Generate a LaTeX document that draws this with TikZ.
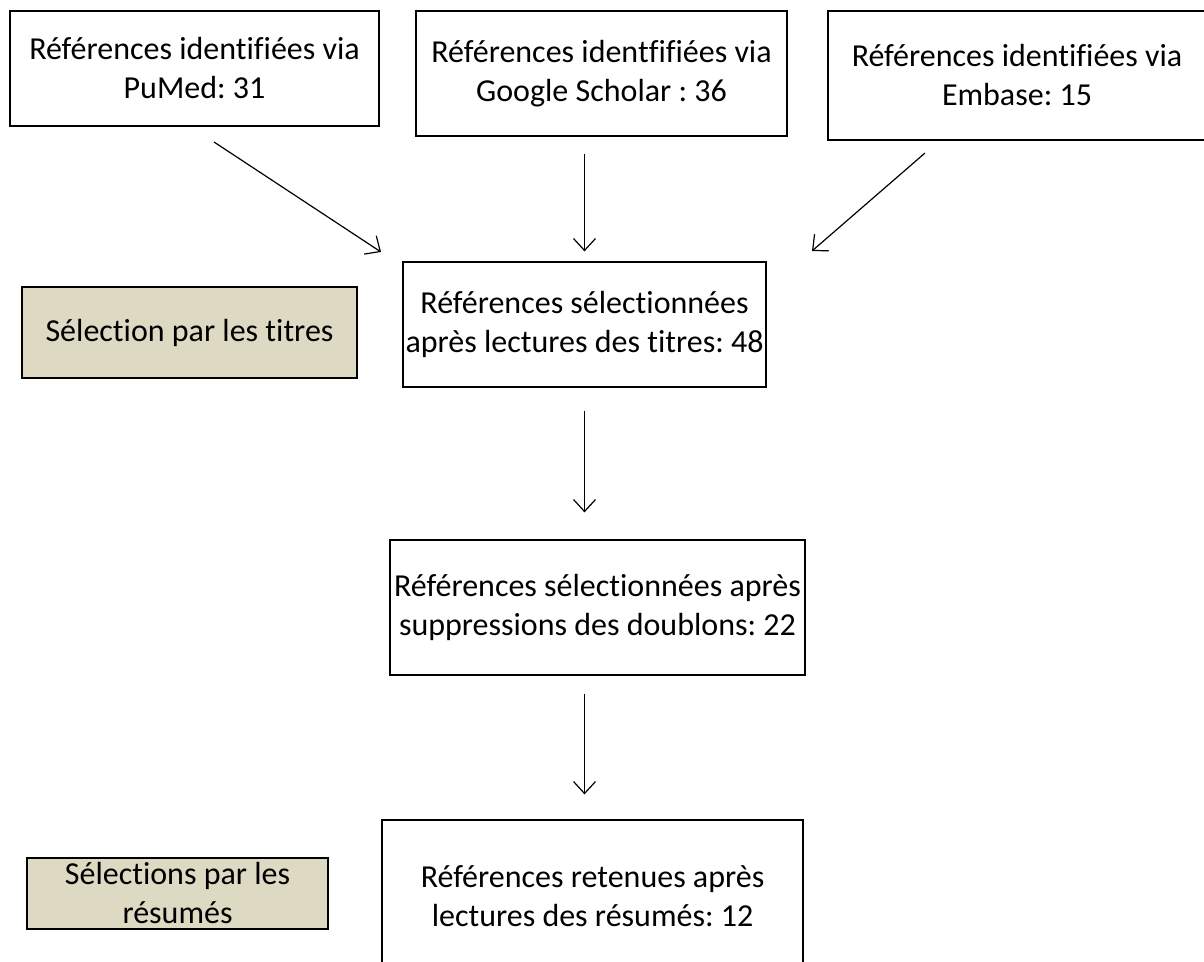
\documentclass[tikz,border=0pt]{standalone}
\usepackage{fontspec}
\setmainfont{Carlito}[Ligatures={NoCommon}, Contextuals={NoAlternate}]
\usetikzlibrary{arrows.meta}
\definecolor{sable}{HTML}{DDD9C3}
\frenchspacing

\begin{document}
\begin{tikzpicture}[x=0.5pt, y=-0.5pt, font=\fontsize{16}{19.5}\selectfont,
	b/.style={draw, line width=0.6pt, align=center, inner sep=0pt},
	s/.style={b, fill=sable},
	arr/.style={-{Straight Barb[length=6pt, width=11pt]}, line width=0.6pt}]
		\clip (0,0) rectangle (1204,962);
		\node[b, minimum width=184.5pt, minimum height=57.5pt] (A) at (194.5,68.5) {Références identifiées via\\PuMed: 31};
		\node[b, minimum width=185.5pt, minimum height=62.5pt] (B) at (601.5,73.5) {Références identfifiées via\\Google Scholar : 36};
		\node[b, minimum width=189pt, minimum height=64.5pt] (C) at (1017,75.5) {Références identifiées via\\Embase: 15};
		\node[s, minimum width=167.5pt, minimum height=45.5pt] (L1) at (189.5,332.5) {Sélection par les titres};
		\node[b, minimum width=181.5pt, minimum height=62.5pt] (D) at (584.5,324.5) {Références sélectionnées\\après lectures des titres: 48};
		\node[b, minimum width=207.5pt, minimum height=67.5pt] (E) at (597.5,607.5) {Références sélectionnées après\\suppressions des doublons: 22};
		\node[s, minimum width=150.5pt, minimum height=35.5pt] (L2) at (177.5,893.5) {Sélections par les\\résumés};
		\node[b, minimum width=210.5pt, minimum height=76pt] (F) at (592.5,896) {Références retenues après\\lectures des résumés: 12};

		% free ends of the slanted arrows
		\coordinate (A_out) at (214,142);
		\coordinate (D_in1) at (381,252);
		\coordinate (C_out) at (925,153);
		\coordinate (D_in3) at (812,251);

		\draw[arr] (A_out) -- (D_in1);
		\draw[arr, shorten <=8.5pt, shorten >=5pt] (D.north |- B.south) -- (D.north);
		\draw[arr] (C_out) -- (D_in3);
		\draw[arr, shorten <=11.5pt, shorten >=13.5pt] (D.south) -- (D.south |- E.north);
		\draw[arr, shorten <=9pt, shorten >=12.5pt] (D.south |- E.south) -- (D.south |- F.north);
	\end{tikzpicture}
\end{document}
